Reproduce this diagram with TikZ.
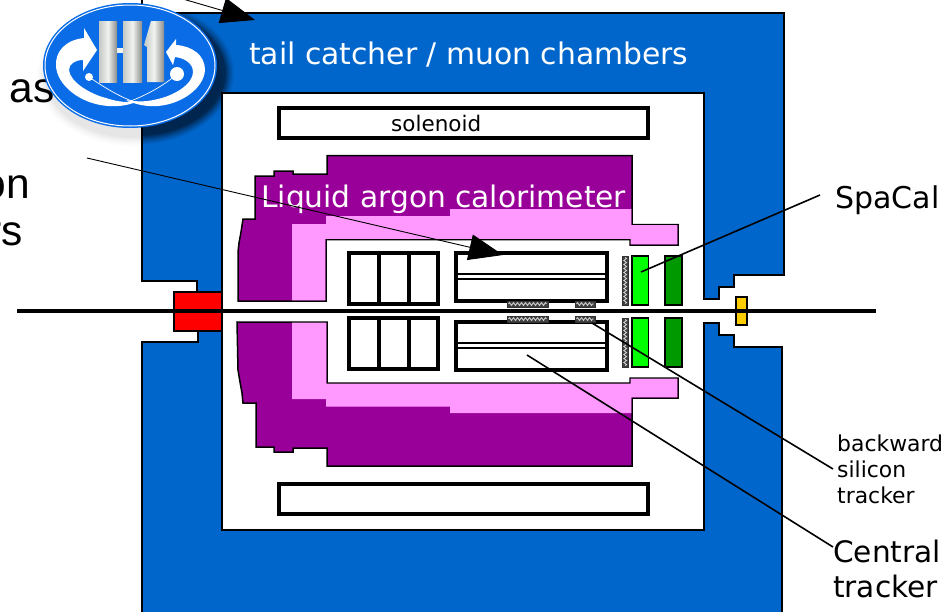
\documentclass[tikz,border=0pt]{standalone}
\usepackage{fontspec}
\setmainfont{DejaVu Sans}
\newfontfamily\slidefont{Liberation Sans}
\usetikzlibrary{arrows.meta,decorations.pathmorphing}
\definecolor{hblue}{HTML}{0066CC}
\definecolor{hpurple}{HTML}{990099}
\definecolor{hpink}{HTML}{FF99FF}
\definecolor{hgreen}{HTML}{00FF00}
\definecolor{hdgreen}{HTML}{009900}
\definecolor{hyellow}{HTML}{FFCC00}
\definecolor{logoblue}{HTML}{0A6CE6}
\definecolor{barside}{HTML}{C4C8C5}
\definecolor{barmid}{HTML}{F0F3F0}
\tikzset{
  part/.style={draw=black,line width=1.5pt,line join=miter},
  box/.style={draw=black,line width=3.4pt,fill=white},
  lbl/.style={anchor=base west,inner sep=0pt,text=black},
  slide/.style={anchor=base east,inner sep=0pt,font=\slidefont\fontsize{42.5}{42.5}\selectfont},
  leader/.style={draw=black,line width=1.6pt},
  thinleader/.style={draw=black,line width=0.9pt},
  bigtip/.style={-{Triangle[length=34pt,width=26pt]}},
  silicon/.style={fill=black!75,draw=black!80,line width=0.8pt},
  zig/.style={draw=white!85!black,line width=0.8pt,decorate,decoration={zigzag,segment length=4pt,amplitude=1.4pt}},
  barfill/.style={left color=barside,right color=barside!70!black,middle color=barmid},
}
\begin{document}
\begin{tikzpicture}[x=1pt,y=-1pt]
\useasboundingbox (0,0) rectangle (948,611);
\clip (0,0) rectangle (948,611);
% clipped slide text behind everything
\node[slide] (tas) at (55,102) {as};
\node[slide] (ton) at (30,198) {on};
\node[slide] (trs) at (23,245) {rs};
% iron return yoke
\fill[hblue,part] (142,-5) -- (142,13) -- (784,13) -- (784,275) -- (734,275) -- (734,287) -- (719,287) -- (719,299) -- (704,299) -- (704,93) -- (222,93) -- (222,292) -- (197,292) -- (197,281) -- (142,281) -- (142,13);
\fill[hblue,part] (142,615) -- (142,342) -- (198,342) -- (198,331) -- (222,331) -- (222,530) -- (704,530) -- (704,323) -- (719,323) -- (719,335) -- (734,335) -- (734,347) -- (782,347) -- (782,615) -- cycle;
% solenoid
\draw[box] (279,108) rectangle (648,138);
\draw[box] (279,484) rectangle (648,514);
% LAr upper
\fill[hpurple,part] (327,155.5) -- (632,155.5) -- (632,224.5) -- (678,224.5) -- (678,245) -- (630,245) -- (630,239.5) -- (326,239.5) -- (326,301) -- (238,301) -- (238,252) -- (239,243) -- (241,232) -- (243,219) -- (255,219) -- (255,176) -- (274,176) -- (274,171) -- (293,171) -- (293,174) -- (327,174) -- cycle;
\fill[hpink] (292,300.3) -- (292,224) -- (326,224) -- (326,216) -- (450,216) -- (450,209) -- (631.3,209) -- (631.3,225.2) -- (677.3,225.2) -- (677.3,244.3) -- (630.7,244.3) -- (630.7,238.8) -- (325.3,238.8) -- (325.3,300.3) -- cycle;
% LAr lower
\fill[hpurple,part] (237,322) -- (327,322) -- (327,383) -- (630,383) -- (630,378) -- (678,378) -- (678,398) -- (632,398) -- (632,466) -- (327,466) -- (327,448) -- (293,448) -- (293,452) -- (274,452) -- (274,447) -- (256,447) -- (256,403) -- (243,403) -- (242,393) -- (240,382) -- (238,370) -- cycle;
\fill[hpink] (292,322.7) -- (326.3,322.7) -- (326.3,383.7) -- (630.7,383.7) -- (630.7,378.7) -- (677.3,378.7) -- (677.3,397.3) -- (631.3,397.3) -- (631.3,413) -- (450,413) -- (450,406.5) -- (326,406.5) -- (326,399) -- (292,399) -- cycle;
% forward trackers
\foreach \ya/\yb in {253/304,318/369}{
  \draw[box] (349,\ya) rectangle (438,\yb);
  \draw[line width=3.2pt] (379,\ya) -- (379,\yb) (409,\ya) -- (409,\yb);
}
% central tracker
\foreach \ya/\yb/\ma/\mb in {253/301/274/279,322/370/343/348}{
  \draw[box] (456,\ya) rectangle (607,\yb);
  \draw[line width=2pt] (456,\ma) -- (607,\ma) (456,\mb) -- (607,\mb);
}
% silicon
\foreach \xa/\xb/\ya/\yb in {507/548/301/307,575/595/301/307,507/548/316/322,575/595/316/322}{
  \draw[silicon] (\xa,\ya) rectangle (\xb,\yb);
  \draw[zig] (\xa+1.5,{(\ya+\yb)/2}) -- (\xb-1.5,{(\ya+\yb)/2});
}
\foreach \ya/\yb in {256/305,318/367}{
  \draw[silicon] (622,\ya) rectangle (628.5,\yb);
  \draw[zig] (625.2,\ya+1.5) -- (625.2,\yb-1.5);
  \draw[part,fill=hgreen] (632,\ya) rectangle (648.5,\yb);
  \draw[part,fill=hdgreen] (665,\ya) rectangle (682,\yb);
}
% beam pipe elements
\draw[part,fill=red] (174,292) rectangle (222,331);
\draw[part,fill=hyellow] (736,297) rectangle (747,325);
\coordinate (beamL) at (17,311);
\coordinate (beamR) at (876,311);
\draw[line width=3.2pt] (beamL) -- (beamR);
% labels in the detector
\node[lbl,text=white,font=\fontsize{29.8}{29.8}\selectfont] (tail) at (249,64) {tail catcher / muon chambers};
\node[lbl,font=\fontsize{21.5}{21.5}\selectfont] (sol) at (391,131) {solenoid};
\node[lbl,text=white,font=\fontsize{29.7}{29.7}\selectfont] (lar) at (261,207) {Liquid argon calorimeter};
\node[lbl,font=\fontsize{30}{30}\selectfont] (spa) at (835,208) {SpaCal};
\node[lbl,font=\fontsize{21.9}{21.9}\selectfont] (bw1) at (837,451) {backward};
\node[lbl,font=\fontsize{21.9}{21.9}\selectfont] (bw2) at (837,477) {silicon};
\node[lbl,font=\fontsize{21.9}{21.9}\selectfont] (bw3) at (837,503) {tracker};
\node[lbl,font=\fontsize{29.6}{29.6}\selectfont] (ct1) at (833,562) {Central};
\node[lbl,font=\fontsize{29.6}{29.6}\selectfont] (ct2) at (833,597) {tracker};
% leaders
\coordinate (spaS) at (641,272);  \coordinate (spaE) at (820,195);
\coordinate (bstS) at (592,323);  \coordinate (bstE) at (833,469);
\coordinate (cjcS) at (527,355);  \coordinate (cjcE) at (833,547);
\coordinate (arS) at (87,158);    \coordinate (arE) at (503,255);
\coordinate (tcS) at (176,-3);    \coordinate (tcE) at (255,20);
\draw[leader] (spaS) -- (spaE);
\draw[leader] (bstS) -- (bstE);
\draw[leader] (cjcS) -- (cjcE);
\draw[thinleader,bigtip] (arS) -- (arE);
\draw[thinleader,bigtip] (tcS) -- (tcE);
% logo shadow: faint on paper, strong on the blue yoke
\foreach \r/\o in {8/.012,6/.016,4/.02,2/.025,0/.03}{
  \fill[black,opacity=\o] (133,76) ellipse ({88+\r} and {62+\r});
}
\begin{scope}
  \clip (142,14) rectangle (222,300) (142,14) rectangle (300,92.3);
  \foreach \r/\o in {9/.08,7/.1,5/.14,3/.18,1/.24}{
    \fill[black,opacity=\o] (137,73) ellipse ({88+\r} and {62+\r});
  }
\end{scope}
% logo
\fill[logoblue] (130,65.5) ellipse (87 and 62.5);
\draw[white,line width=1pt] (130,65.5) ellipse (85 and 60.5);
% left swoosh
\fill[white] (97,50) -- (84,28) -- (84,38) .. controls (65,40) and (55,52) .. (56,66) .. controls (57,85) and (80,104) .. (108,106) .. controls (122,107) and (132,104) .. (138,101) .. controls (128,103) and (118,102) .. (106,98) .. controls (90,94) and (70,82) .. (69,70) .. controls (69,64) and (75,60) .. (83,60) -- (83,71) -- cycle;
% right swoosh
\fill[white] (166,52) -- (176,39) -- (176,45) .. controls (192,46) and (205,55) .. (205,70) .. controls (204,88) and (182,104) .. (158,106) .. controls (146,107) and (134,104) .. (126,100) .. controls (137,102) and (146,102) .. (158,99) .. controls (175,95) and (193,84) .. (193,72) .. controls (193,63) and (184,58) .. (175,57) -- (173,65) -- cycle;
% particle tracks
\draw[white,line width=0.7pt] (89,77) .. controls (105,88) and (122,98) .. (135,102);
\draw[white,line width=0.7pt] (177,74) .. controls (165,85) and (145,96) .. (128,102);
\fill[white] (89,77) circle (4) (177,74) circle (7);
% H1 letters
\shade[barfill] (99,21) rectangle (117,82);
\shade[barfill] (123,21) rectangle (142,82);
\fill[barmid] (117,48) rectangle (123,52.5);
\shade[barfill] (151,21) -- (164,21) -- (164,82) -- (147,82) -- (147,47) -- (144,45) -- cycle;
\end{tikzpicture}
\end{document}
